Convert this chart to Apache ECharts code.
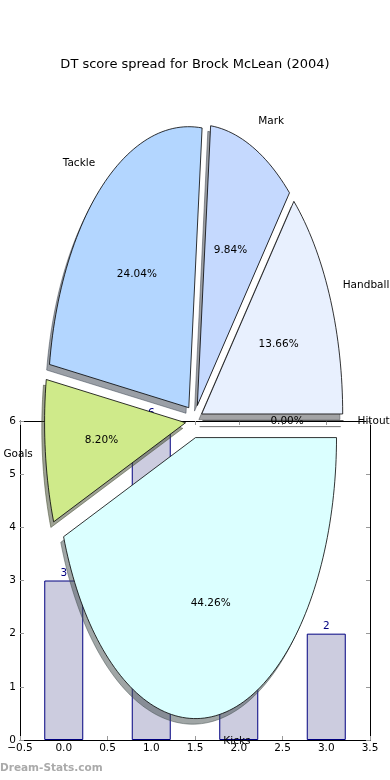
<!DOCTYPE html>
<html><head><meta charset="utf-8">
<script src="https://cdn.jsdelivr.net/npm/echarts@6/dist/echarts.min.js"></script>
<style>html,body{margin:0;padding:0;background:#fff}#c{width:390px;height:780px}</style>
</head><body><div id="c"></div>
<script>
// ---- data ----
var titleText = 'DT score spread for Brock McLean (2004)';
var barX = [0, 1, 2, 3];
var barY = [3, 6, 4, 2];
var pieNames = ['Hitout', 'Handball', 'Mark', 'Tackle', 'Goals', 'Kicks'];
var pieValues = [0, 25, 18, 44, 15, 81];
var pieColors = ['#ffffff', '#e8f0fe', '#c5d9fe', '#b3d6ff', '#cfea8a', '#dbffff'];
var xTicks = [-0.5, 0, 0.5, 1, 1.5, 2, 2.5, 3, 3.5];
var yTicks = [0, 1, 2, 3, 4, 5, 6];

// ---- pie geometry (layout) ----
var PCX = 194, PCY = 421, PRX = 141, PRY = 281, EXPLODE = 0.06;
var SH_DX = -2.8, SH_DY = 5.6;
var FONT = 'DejaVu Sans, sans-serif';
var LBL = '10.5px ' + FONT;

var total = pieValues.reduce(function (a, b) { return a + b; }, 0);
var angles = [];
(function () {
  var acc = 0;
  for (var i = 0; i < pieValues.length; i++) {
    var t1 = acc / total * 360; acc += pieValues[i];
    var t2 = acc / total * 360;
    angles.push([t1, t2]);
  }
})();

function wedgeGeom(i) {
  var t1 = angles[i][0], t2 = angles[i][1];
  var tm = (t1 + t2) / 2 * Math.PI / 180;
  var cx = PCX + EXPLODE * PRX * Math.cos(tm);
  var cy = PCY - EXPLODE * PRY * Math.sin(tm);
  var pts = [[cx, cy]];
  var n = Math.max(2, Math.ceil((t2 - t1) / 1.5));
  for (var k = 0; k <= n; k++) {
    var a = (t1 + (t2 - t1) * k / n) * Math.PI / 180;
    pts.push([cx + PRX * Math.cos(a), cy - PRY * Math.sin(a)]);
  }
  return { pts: pts, cx: cx, cy: cy, tm: tm };
}

function shadowColor(hex) {
  var r = parseInt(hex.substr(1, 2), 16), g = parseInt(hex.substr(3, 2), 16), b = parseInt(hex.substr(5, 2), 16);
  return 'rgba(' + Math.round(r * 0.3) + ',' + Math.round(g * 0.3) + ',' + Math.round(b * 0.3) + ',0.5)';
}

var pieData = pieValues.map(function (v, i) { return [i, v]; });

var chart = echarts.init(document.getElementById('c'), null, { renderer: 'canvas' });
var minusFmt = function (v) { var s = (Math.abs(v) < 1e-9 ? 0 : v).toFixed(1); return s.replace('-', '\u2212'); };
var axisCommon = {
  type: 'value',
  axisLine: { show: true, onZero: false, lineStyle: { color: '#000', width: 1 } },
  axisTick: { show: true, inside: true, length: 4, lineStyle: { color: '#999' } },
  splitLine: { show: false }
};
chart.setOption({
  animation: false,
  title: {
    text: titleText, left: 'center', top: 53,
    textStyle: { fontFamily: FONT, fontSize: 13, fontWeight: 'normal', color: '#000' }
  },
  graphic: [{
    type: 'text', left: 0, top: 763,
    style: { text: 'Dream-Stats.com', font: 'bold 10.5px ' + FONT, fill: '#aaaaaa' }
  }],
  grid: { left: 20, right: 20, top: 421, bottom: 40, containLabel: false },
  xAxis: [
    Object.assign({}, axisCommon, {
      min: xTicks[0], max: xTicks[xTicks.length - 1], interval: 0.5, position: 'bottom',
      axisLabel: { show: true, formatter: minusFmt, fontFamily: FONT, fontSize: 10.5, color: '#000', margin: 3, showMinLabel: true, showMaxLabel: true }
    }),
    Object.assign({}, axisCommon, {
      min: xTicks[0], max: xTicks[xTicks.length - 1], interval: 0.5, position: 'top',
      axisLabel: { show: false }
    })
  ],
  yAxis: [
    Object.assign({}, axisCommon, {
      min: yTicks[0], max: yTicks[yTicks.length - 1], interval: 1, position: 'left',
      axisLabel: { show: true, fontFamily: FONT, fontSize: 10.5, color: '#000', margin: 4, showMinLabel: true, showMaxLabel: true }
    }),
    Object.assign({}, axisCommon, {
      min: yTicks[0], max: yTicks[yTicks.length - 1], interval: 1, position: 'right',
      axisLabel: { show: false }
    })
  ],
  series: [
    {
      type: 'bar', xAxisIndex: 0, yAxisIndex: 0, barWidth: 39, z: 2,
      data: barX.map(function (x, i) { return [x, barY[i]]; }),
      itemStyle: { color: '#ccccdf', borderColor: '#000080', borderWidth: 1 },
      label: { show: true, position: 'top', distance: 2, color: '#000080', fontFamily: FONT, fontSize: 10.5,
        formatter: function (p) { return p.value[1]; } }
    },
    {
      type: 'custom', coordinateSystem: 'none', z: 5, silent: true,
      data: pieData,
      renderItem: function (params, api) {
        var i = params.dataIndex;
        var g = wedgeGeom(i);
        var pts = g.pts.map(function (p) { return [p[0] + SH_DX, p[1] + SH_DY]; });
        var c = shadowColor(pieColors[i]);
        return { type: 'polygon', shape: { points: pts }, style: { fill: c, stroke: c, lineWidth: 1 } };
      }
    },
    {
      type: 'custom', coordinateSystem: 'none', z: 6, silent: true,
      data: pieData,
      renderItem: function (params, api) {
        var i = params.dataIndex;
        var g = wedgeGeom(i);
        var v = api.value(1);
        var cosm = Math.cos(g.tm), sinm = Math.sin(g.tm);
        var lx = g.cx + 1.1 * PRX * cosm + (cosm > 0 ? 0 : 1.5), ly = g.cy - 1.1 * PRY * sinm;
        var px = g.cx + 0.6 * PRX * cosm, py = g.cy - 0.6 * PRY * sinm;
        return {
          type: 'group',
          children: [
            { type: 'polygon', shape: { points: g.pts }, style: { fill: pieColors[i], stroke: '#000', lineWidth: 0.8 } },
            { type: 'text', z2: 10, style: { text: pieNames[i], x: lx, y: ly, align: cosm > 0 ? 'left' : 'right', verticalAlign: 'middle', font: LBL, fill: '#000' } },
            { type: 'text', z2: 10, style: { text: (v / total * 100).toFixed(2) + '%', x: px, y: py, align: 'center', verticalAlign: 'middle', font: LBL, fill: '#000' } }
          ]
        };
      }
    }
  ]
});
</script></body></html>
